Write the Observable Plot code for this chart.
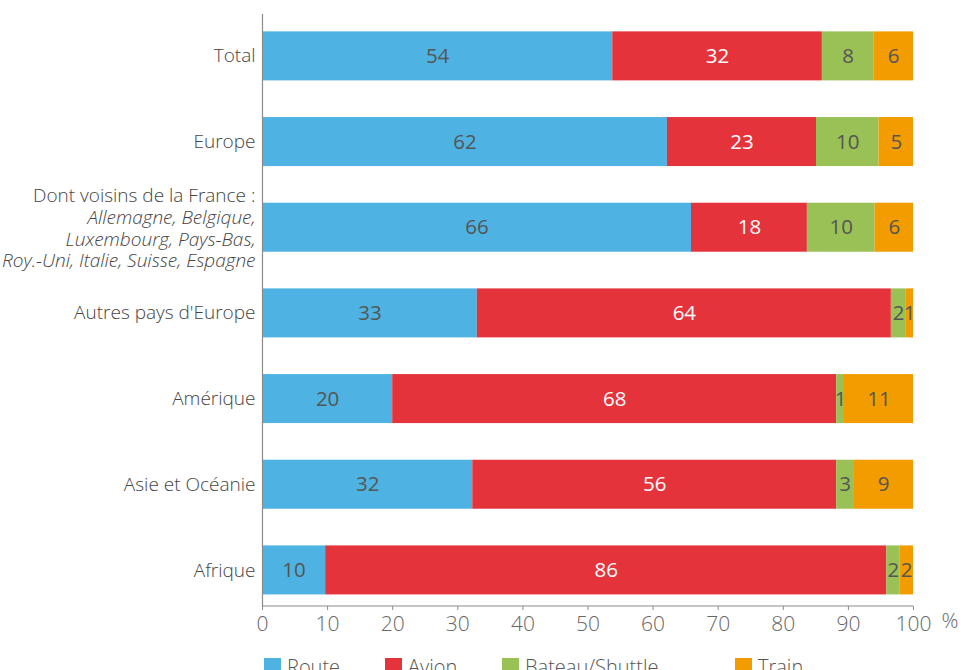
<!DOCTYPE html>
<html>
<head>
<meta charset="utf-8">
<script src="https://cdn.jsdelivr.net/npm/d3@7"></script>
<script src="https://cdn.jsdelivr.net/npm/@observablehq/plot@0.6"></script>
<style>
  body { margin: 0; background: #fff; font-family: "Open Sans", sans-serif; }
  #wrap { position: relative; width: 975px; }
  #legend { position: relative; height: 40px; margin-top: 11px; }
  .item { position: absolute; top: 0; display: flex; align-items: center; font-size: 20px; color: #555; font-weight: 300; }
  .sw { width: 17px; height: 17px; margin-right: 6px; }
</style>
</head>
<body>
<div id="wrap">
  <div id="chart"></div>
  <div id="legend"></div>
</div>
<script>
const categories = ["Total", "Europe", "Voisins", "Autres pays d'Europe", "Amérique", "Asie et Océanie", "Afrique"];
const modes = ["Route", "Avion", "Bateau/Shuttle", "Train"];
const colors = ["#4eb3e2", "#e5333c", "#99c156", "#f39c00"];
const route  = [53.8, 62.2, 65.9, 33.0, 20.0, 32.3, 9.7];
const avion  = [32.2, 22.9, 17.8, 63.6, 68.2, 55.9, 86.2];
const bateau = [7.9, 9.6, 10.4, 2.2, 1.2, 2.6, 2.0];
const train  = [6.1, 5.3, 5.9, 1.2, 10.6, 9.2, 2.1];
const xTicks = [0, 10, 20, 30, 40, 50, 60, 70, 80, 90, 100];
const voisinsTitle = "Dont voisins de la France :";
const voisinsList = "Allemagne, Belgique,\nLuxembourg, Pays-Bas,\nRoy.-Uni, Italie, Suisse, Espagne";
const legendX = [264, 385, 502, 735];

const series = [route, avion, bateau, train];
const rows = [];
categories.forEach((c, i) => modes.forEach((m, j) => rows.push({cat: c, mode: m, value: series[j][i]})));

const W = 975, H = 642, MT = 14, MB = 36, ML = 262, MR = 62;
const font = "Open Sans, sans-serif";

const chart = Plot.plot({
  width: W, height: H,
  marginTop: MT, marginBottom: MB, marginLeft: ML, marginRight: MR,
  style: {fontFamily: font, background: "#fff"},
  x: {domain: [0, 100], axis: null},
  y: {domain: categories, paddingInner: 0.428, paddingOuter: 0.169, align: 0.6, round: false, axis: null},
  color: {domain: modes, range: colors},
  marks: [
    Plot.barX(rows, Plot.stackX({y: "cat", x: "value", fill: "mode"})),
    Plot.text(rows, Plot.stackX({y: "cat", x: "value", z: "mode",
      text: d => d.mode !== "Avion" ? String(Math.round(d.value)) : "", fill: "#555", fontSize: 20.5})),
    Plot.text(rows, Plot.stackX({y: "cat", x: "value", z: "mode",
      text: d => d.mode === "Avion" ? String(Math.round(d.value)) : "", fill: "#fff", fontSize: 20.5})),
    Plot.ruleX([0], {stroke: "#8a8a8a", strokeWidth: 1.2}),
    Plot.axisX({ticks: xTicks, tickSize: 4, tickPadding: 6, fontSize: 21, fontWeight: 300, color: "#666",
      tickFormat: d => String(d), stroke: "#8a8a8a", label: null}),
    Plot.text(["%"], {x: 100, frameAnchor: "bottom", dx: 28, dy: 21, textAnchor: "start", fontSize: 21, fontWeight: 300, fill: "#666"}),
    Plot.axisY({tickSize: 0, tickPadding: 7, fontSize: 19, fontWeight: 300, color: "#444", label: null,
      tickFormat: d => d === "Voisins" ? "" : d}),
    Plot.text(["Voisins"], {y: d => d, x: 0, text: () => voisinsTitle, dx: -7, dy: -32, textAnchor: "end", fontSize: 19, fontWeight: 300, fill: "#444"}),
    Plot.text(["Voisins"], {y: d => d, x: 0, text: () => voisinsList, dx: -7, dy: 11, textAnchor: "end", fontSize: 19, fontWeight: 300, fontStyle: "italic", fill: "#444", lineHeight: 1.12})
  ]
});

// bottom axis baseline
const sx = chart.scale("x");
d3.select(chart).append("line")
  .attr("x1", sx.apply(0)).attr("x2", sx.apply(100))
  .attr("y1", H - MB).attr("y2", H - MB)
  .attr("stroke", "#8a8a8a").attr("stroke-width", 1.2);

document.getElementById("chart").appendChild(chart);

const legend = document.getElementById("legend");
modes.forEach((m, i) => {
  const it = document.createElement("div");
  it.className = "item";
  it.style.left = legendX[i] + "px";
  it.innerHTML = `<span class="sw" style="background:${colors[i]}"></span><span>${m}</span>`;
  legend.appendChild(it);
});
</script>
</body>
</html>
